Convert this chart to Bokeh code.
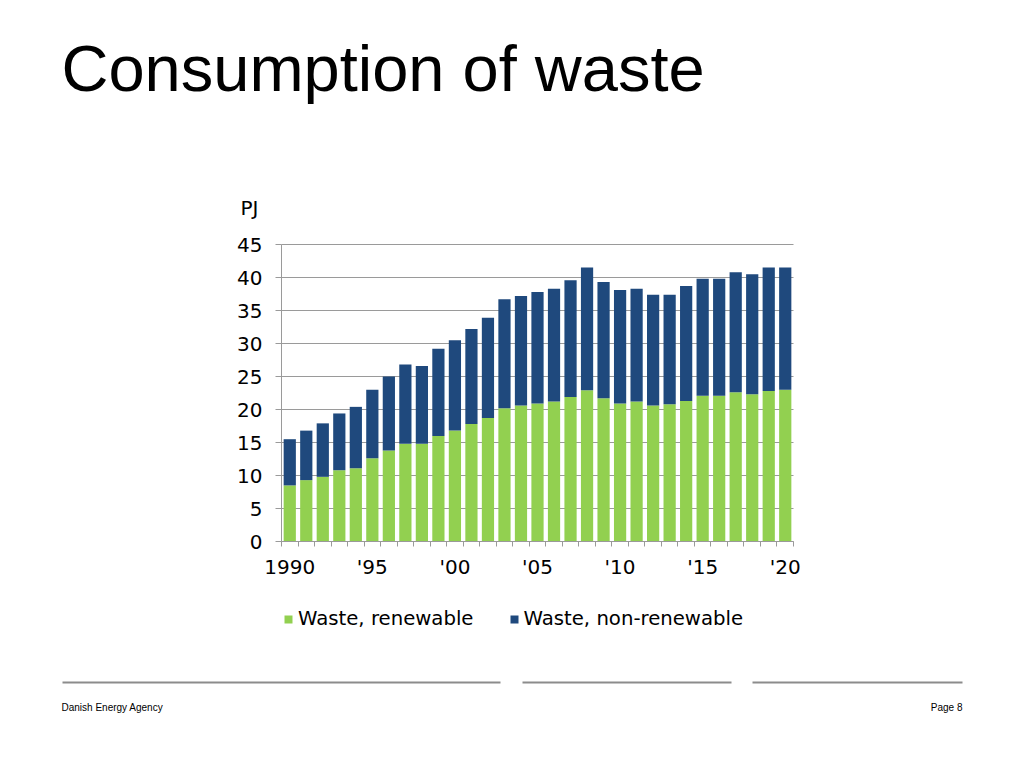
from bokeh.plotting import figure
from bokeh.models import (ColumnDataSource, Range1d, FixedTicker, Legend, LegendItem,
                          LinearAxis, Grid, Label, Arrow)
from bokeh.embed import file_html
from bokeh.resources import INLINE

# ---- data (PJ) ----
years = list(range(1990, 2021))
renewable = [8.5, 9.3, 9.8, 10.8, 11.1, 12.6, 13.8, 14.8, 14.8, 16.0, 16.8,
             17.8, 18.7, 20.2, 20.6, 20.9, 21.2, 21.9, 22.9, 21.7, 20.9,
             21.2, 20.6, 20.8, 21.3, 22.1, 22.1, 22.6, 22.3, 22.8, 23.0]
non_renewable = [7.0, 7.5, 8.1, 8.6, 9.3, 10.4, 11.2, 12.0, 11.8, 13.2, 13.7,
                 14.4, 15.2, 16.5, 16.6, 16.9, 17.1, 17.7, 18.6, 17.6, 17.2,
                 17.1, 16.8, 16.6, 17.4, 17.7, 17.7, 18.2, 18.2, 18.7, 18.5]
series_names = ["Waste, renewable", "Waste, non-renewable"]
series_colors = ["#92D050", "#1F497D"]
x_tick_years = [1990, 1995, 2000, 2005, 2010, 2015, 2020]
x_tick_labels = ["1990", "'95", "'00", "'05", "'10", "'15", "'20"]
y_ticks = [0, 5, 10, 15, 20, 25, 30, 35, 40, 45]

title_text = "Consumption of waste"
unit_text = "PJ"
footer_left = "Danish Energy Agency"
footer_right = "Page 8"

GRAY = "#9A9A9A"
FONT = "DejaVu Sans"
FS = "20px"
W, H = 1020, 764
# chart area in page pixels
PL, PR, PT, PB = 281, 793, 244, 541
X0, X1 = years[0] - 0.5, years[-1] + 0.5
Y0, Y1 = 0, 45
kx = (PR - PL) / (X1 - X0)
ky = (PB - PT) / (Y1 - Y0)
x_range = Range1d(X0 - PL / kx, X1 + (W - PR) / kx)
y_range = Range1d(Y0 - (H - PB) / ky, Y1 + PT / ky)


def sy(page_y):
    return H - page_y


src = ColumnDataSource(dict(year=years, ren=renewable, non=non_renewable))

p = figure(width=W, height=H, output_backend="svg", toolbar_location=None,
           x_range=x_range, y_range=y_range, min_border=0,
           x_axis_location=None, y_axis_location=None)
p.outline_line_color = None
p.background_fill_color = "white"
p.border_fill_color = "white"
for r in p.center:
    if isinstance(r, Grid):
        r.visible = False

rs = p.vbar_stack(["ren", "non"], x="year", width=0.74, color=series_colors,
                  line_color=None, source=src)

grid = Grid(dimension=1, ticker=FixedTicker(ticks=y_ticks), bounds=(Y0, Y1),
            cross_bounds=(X0, X1), grid_line_color=GRAY, grid_line_width=1,
            level="underlay")
p.add_layout(grid)

yaxis = LinearAxis(fixed_location=X0, bounds=(Y0, Y1),
                   ticker=FixedTicker(ticks=y_ticks),
                   axis_line_color=GRAY, major_tick_line_color=GRAY,
                   major_tick_out=6, major_tick_in=0, minor_tick_line_color=None,
                   major_label_standoff=13, major_label_text_font=FONT,
                   major_label_text_font_size=FS, major_label_text_color="black")
p.add_layout(yaxis, "left")

xaxis = LinearAxis(fixed_location=Y0, bounds=(X0, X1),
                   ticker=FixedTicker(ticks=x_tick_years,
                                      minor_ticks=[y - 0.5 for y in years] + [X1]),
                   major_label_overrides={y: l for y, l in zip(x_tick_years, x_tick_labels)},
                   axis_line_color=GRAY, major_tick_out=0, major_tick_in=0,
                   minor_tick_out=5, minor_tick_in=0, minor_tick_line_color=GRAY,
                   major_label_standoff=8, major_label_text_font=FONT,
                   major_label_text_font_size=FS, major_label_text_color="black")
p.add_layout(xaxis, "below")

legend = Legend(items=[LegendItem(label=series_names[0], renderers=[rs[0]]),
                       LegendItem(label=series_names[1], renderers=[rs[1]])],
                orientation="horizontal", location=(283, sy(630)),
                border_line_color=None, background_fill_alpha=0,
                glyph_width=10, glyph_height=10, label_standoff=5,
                spacing=35, padding=0, margin=0,
                label_text_font=FONT, label_text_font_size="19.7px",
                label_text_color="black")
p.add_layout(legend, "center")

# texts
p.add_layout(Label(x=61, y=sy(68), x_units="screen", y_units="screen",
                   text=title_text, text_font="Liberation Sans",
                   text_font_size="65px", text_color="black",
                   text_baseline="alphabetic", text_align="left"))
p.add_layout(Label(x=240, y=sy(207), x_units="screen", y_units="screen",
                   text=unit_text, text_font=FONT,
                   text_font_size=FS, text_color="black",
                   text_baseline="middle", text_align="left"))
p.add_layout(Label(x=61, y=sy(707), x_units="screen", y_units="screen",
                   text=footer_left, text_font="Liberation Sans",
                   text_font_size="10px", text_color="black",
                   text_baseline="alphabetic", text_align="left"))
p.add_layout(Label(x=962, y=sy(707), x_units="screen", y_units="screen",
                   text=footer_right, text_font="Liberation Sans",
                   text_font_size="10px", text_color="black",
                   text_baseline="alphabetic", text_align="right"))

# footer rules
for a, b in [(62, 500), (522, 731), (752, 962)]:
    p.add_layout(Arrow(end=None, x_start=a, y_start=sy(682), x_end=b, y_end=sy(682),
                       start_units="screen", end_units="screen",
                       line_color="#8C8C8C", line_width=2))

open("out.html", "w").write(file_html(p, INLINE))
